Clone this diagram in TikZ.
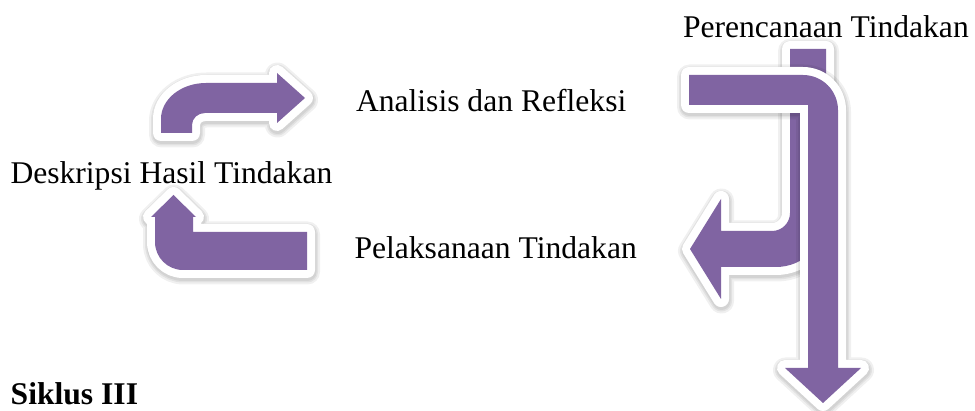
\documentclass[tikz,border=0pt]{standalone}
\usepackage{fontspec}
\setmainfont{Liberation Serif}
\usetikzlibrary{calc}
\definecolor{arrowpurple}{RGB}{128,100,162}
\tikzset{
  lbl/.style={anchor=base west, inner sep=0pt, outer sep=0pt, font=\fontsize{31.6}{36}\selectfont, text=black},
  shadowlayer/.style={draw=black, line join=round, draw opacity=0.06},
  arrowborder/.style={draw=white, line width=16pt, line join=round, fill=white},
  arrowbody/.style={fill=arrowpurple, draw=none},
}
\newcommand\arrowlayers[1]{%
  \draw[shadowlayer, line width=25pt, shift={(0.5,2)}] #1;
  \draw[shadowlayer, line width=21pt, shift={(0.5,2)}] #1;
  \draw[shadowlayer, line width=18pt, shift={(0.5,2)}] #1;
  \draw[arrowborder] #1;
  \path[arrowbody] #1;
}
\begin{document}
\begin{tikzpicture}[x=1pt,y=-1pt]
\fill[white] (0,0) rectangle (975,411);
\useasboundingbox (0,0) rectangle (975,411);

% top-left arrow (bent, pointing right)
\arrowlayers{(161,133) -- (161,119) .. controls ($(161,119)!0.552!(161,83)$) and ($(206,83)!0.552!(161,83)$) .. (206,83) -- (277,83) -- (277,73) -- (305,98) -- (277,123) -- (277,113) -- (205,113) .. controls ($(205,113)!0.552!(192,113)$) and ($(192,125)!0.552!(192,113)$) .. (192,125) -- (192,133) -- cycle}

% bottom-left arrow (bent, pointing up)
\arrowlayers{(307,232) -- (193,232) -- (193,217) -- (196,217) -- (173.5,195) -- (151,217) -- (155,217) -- (155,242) .. controls ($(155,242)!0.552!(155,270)$) and ($(183,270)!0.552!(155,270)$) .. (183,270) -- (307,270) -- cycle}

% back right arrow (down then left)
\arrowlayers{(790,49) -- (826,49) -- (826,217) .. controls ($(826,217)!0.552!(826,267)$) and ($(776,267)!0.552!(826,267)$) .. (776,267) -- (721,267) -- (721,299) -- (690,249) -- (721,199) -- (721,231) -- (772,231) .. controls ($(772,231)!0.552!(790,231)$) and ($(790,213)!0.552!(790,231)$) .. (790,213) -- cycle}

% main right arrow (right then down)
\arrowlayers{(689,75) -- (803,75) .. controls ($(803,75)!0.552!(838,75)$) and ($(838,110)!0.552!(838,75)$) .. (838,110) -- (838,368) -- (861,368) -- (823,403) -- (785,368) -- (808,368) -- (808,105) -- (689,105) -- cycle}

\node[lbl] (perencanaan) at (683,37.3) {Perencanaan Tindakan};
\node[lbl] (analisis) at (356,111.7) {Analisis dan Refleksi};
\node[lbl] (deskripsi) at (10.5,183.3) {Deskripsi Hasil Tindakan};
\node[lbl] (pelaksanaan) at (354.5,258.3) {Pelaksanaan Tindakan};
\node[lbl, font=\fontsize{31.6}{36}\selectfont\bfseries] (siklus) at (10.7,405) {Siklus III};
\end{tikzpicture}
\end{document}
